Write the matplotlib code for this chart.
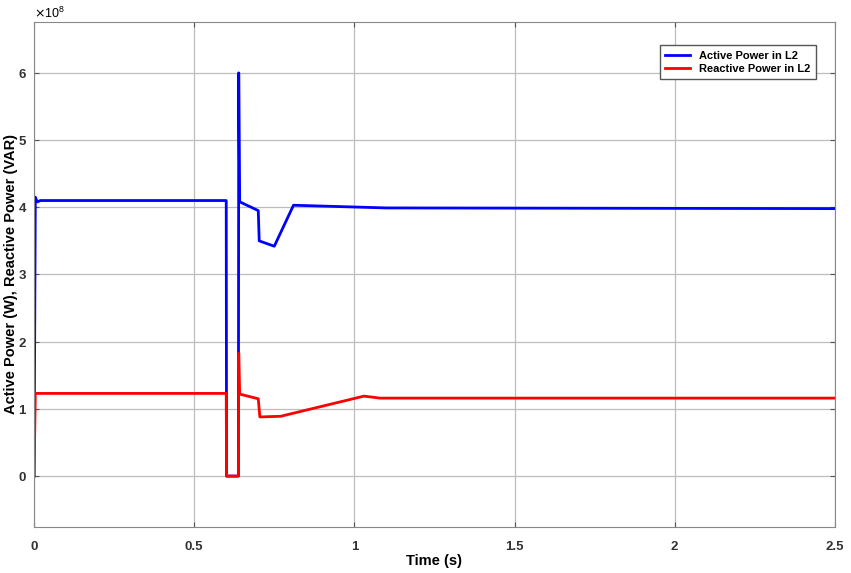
import matplotlib.pyplot as plt
from matplotlib.ticker import ScalarFormatter

plt.rcParams["font.family"] = ["Liberation Sans", "DejaVu Sans"]

# time breakpoints (s) and values (x1e8)
t_active = [0.0, 0.004, 0.01, 0.02, 0.6, 0.601, 0.638, 0.639, 0.642, 0.647, 0.70, 0.703, 0.75, 0.81, 1.1, 2.5]
p_active = [0.0, 4.15, 4.08, 4.1, 4.1, 0.0, 0.0, 6.0, 4.08, 4.07, 3.95, 3.5, 3.42, 4.03, 3.99, 3.98]

t_reactive = [0.0, 0.004, 0.6, 0.601, 0.638, 0.639, 0.642, 0.70, 0.705, 0.77, 1.03, 1.08, 2.5]
q_reactive = [0.0, 1.23, 1.23, 0.0, 0.0, 1.83, 1.22, 1.15, 0.88, 0.89, 1.19, 1.16, 1.16]

SCALE = 1e8

fig, ax = plt.subplots(figsize=(8.51, 5.73), dpi=100)
fig.subplots_adjust(left=0.04, right=0.981, top=0.962, bottom=0.08)

ax.plot(t_active, [v * SCALE for v in p_active], color="#0000ff", lw=2, label="Active Power in L2")
ax.plot(t_reactive, [v * SCALE for v in q_reactive], color="#ff0000", lw=2, label="Reactive Power in L2")

ax.set_xlim(0, 2.5)
ax.set_ylim(-0.76 * SCALE, 6.76 * SCALE)
ax.set_xticks([0, 0.5, 1, 1.5, 2, 2.5])
ax.set_xticklabels(["0", "0.5", "1", "1.5", "2", "2.5"])
ax.set_yticks([i * SCALE for i in range(7)])

fmt = ScalarFormatter(useMathText=True)
fmt.set_powerlimits((0, 0))
ax.yaxis.set_major_formatter(fmt)
ax.yaxis.get_offset_text().set_fontsize(9)

ax.grid(True, color="#bdbdbd", lw=0.9)
ax.tick_params(direction="in", labelsize=9.5, top=True, right=True, color="#555555")
ax.tick_params(axis="x", pad=10)
ax.tick_params(axis="y", pad=5)
for lab in ax.get_xticklabels() + ax.get_yticklabels():
    lab.set_fontweight("bold")
    lab.set_color("#333333")
for sp in ax.spines.values():
    sp.set_color("#888888")

ax.set_xlabel("Time (s)", fontsize=10.5, fontweight="bold", labelpad=1)
ax.set_ylabel("Active Power (W), Reactive Power (VAR)", fontsize=10.5, fontweight="bold", labelpad=0)

leg = ax.legend(loc="upper right", prop={"weight": "bold", "size": 8},
                fancybox=False, edgecolor="#555555", framealpha=1,
                bbox_to_anchor=(0.983, 0.965),
                handlelength=2.2, borderpad=0.5, labelspacing=0.3)

fig.savefig("out.png", dpi=100)
